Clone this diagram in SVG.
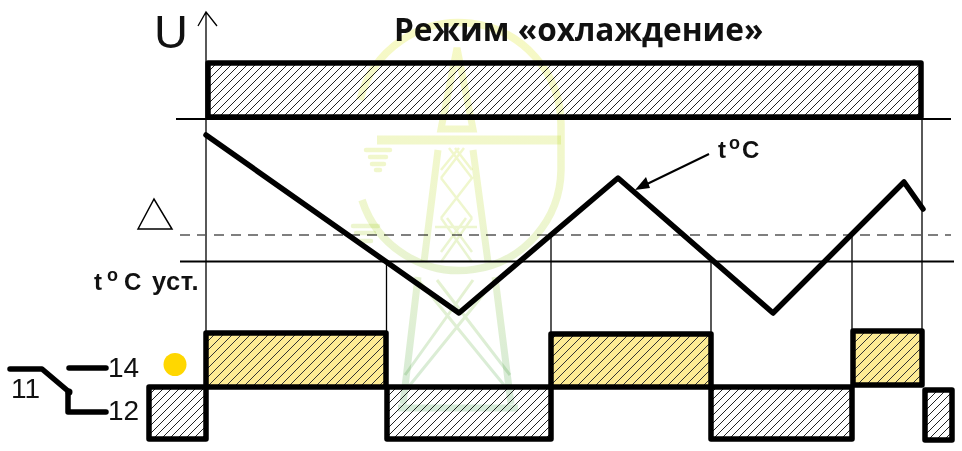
<svg xmlns="http://www.w3.org/2000/svg" width="962" height="451" viewBox="0 0 962 451">
<style>
.thin{fill:none;stroke:#000;stroke-width:1.3}
.mid{fill:none;stroke:#000;stroke-width:2}
.thick{fill:none;stroke:#000;stroke-width:5.500;stroke-linejoin:round;stroke-linecap:round}
.hg{fill:url(#hatch);stroke:#000;stroke-width:5.500;stroke-linejoin:round}
.hy{fill:url(#hatchY);stroke:#000;stroke-width:5.500;stroke-linejoin:round}
.sans{font-family:"Liberation Sans",Arial,sans-serif;fill:#111}
.lbl{font-size:28px}
.bold{font-weight:bold;font-size:24px}
.sup{font-size:18px}
.wm{fill:none;stroke:url(#wmg);mix-blend-mode:multiply}
</style>
<defs>
<pattern id="hatch" patternUnits="userSpaceOnUse" width="8" height="8"><rect width="8" height="8" fill="#fff"/><path d="M-2 2L2 -2M0 8L8 0M6 10L10 6" stroke="#222" stroke-width="1"/></pattern>
<pattern id="hatchY" patternUnits="userSpaceOnUse" width="9" height="9"><rect width="9" height="9" fill="#fdeb95"/><path d="M-2 2L2 -2M0 9L9 0M7 11L11 7" stroke="#333" stroke-width="1"/></pattern>
<linearGradient id="wmg" gradientUnits="userSpaceOnUse" x1="0" y1="20" x2="0" y2="415"><stop offset="0" stop-color="#f7f9c4"/><stop offset=".5" stop-color="#eef6cf"/><stop offset="1" stop-color="#d3e9d8"/></linearGradient>
</defs>
<g id="background-lines">
<path class="thin" d="M206 12V333M198 26L206 12L217 26"/>
<path class="mid" d="M176 119H951M180 261.500H954"/>
<path d="M180 235H951" fill="none" stroke="#555" stroke-width="1.300" stroke-dasharray="10 7"/>
<path class="thin" d="M922 119V332M386.500 262V333M551 235V333M711 262V333M852 235V331"/>
</g>
<g id="top-bar"><path class="hg" d="M208 63H921V117H208Z"/></g>
<g id="relay-state">
<rect class="hg" x="149" y="387" width="57" height="52"/>
<rect class="hg" x="387" y="387" width="164" height="52"/>
<rect class="hg" x="711" y="387" width="141" height="52"/>
<rect class="hg" x="925" y="390" width="27" height="50"/>
<rect class="hy" x="206" y="333" width="180" height="54"/>
<rect class="hy" x="551" y="334" width="160" height="53"/>
<rect class="hy" x="853" y="331" width="69" height="54"/>
</g>
<g id="temperature">
<path class="thick" d="M206 135L459 313L618 178L773 313L904 182L923 209"/>
<path class="mid" d="M709 154L645 185"/>
<path d="M635 190L646 177L650 188Z" fill="#000"/>
</g>
<g id="contact">
<path class="thick" d="M10 369H42L68 391V412H106M69 368H106"/>
<circle cx="69" cy="392" r="3.500" fill="#000"/>
<circle cx="175" cy="364.500" r="11.500" fill="#ffd700"/>
</g>
<g id="labels">
<text class="sans" x="154" y="48" font-size="47">U</text>
<text x="394" y="41" font-family="'Open Sans',sans-serif" font-weight="bold" font-size="31.600" fill="#111">Режим «охлаждение»</text>
<path d="M138 229L154 199L172 229Z" fill="none" stroke="#000" stroke-width="1.500"/>
<text class="sans bold" x="718" y="158" font-size="25">t<tspan class="sup" x="729" y="149">o</tspan><tspan x="742" y="158">C</tspan></text>
<text class="sans bold" x="94" y="290">t<tspan class="sup" x="107" y="281">o</tspan><tspan x="124" y="290">C</tspan><tspan x="152" y="290" font-size="25.500" letter-spacing=".5">уст.</tspan></text>
<text class="sans lbl" x="108" y="377">14</text>
<text class="sans lbl" x="108" y="420">12</text>
<text class="sans lbl" x="11" y="398">11</text>
</g>
<g id="watermark">
<path class="wm" stroke-width="7.500" d="M360 100A102 102 0 0 1 561 124V170A102 102 0 0 1 362 200"/>
<path class="wm" stroke-width="9" d="M377 140H561"/>
<path class="wm" stroke-width="4.500" stroke-linecap="round" d="M366 150H390M370 157H386M372 164H384M376 170H380M353 226H378M356 233H374M360 241H371"/>
<path class="wm" stroke-width="7" d="M457 48L441 129H473ZM438 150L424 262M473 150L488 262M418 277L403 404M495 277L511 404M398 408H518"/>
<path class="wm" stroke-width="2.500" d="M449 148L472 178L441 218M455 148L472 170M441 178L472 218M464 148L441 178M459 148L441 170M441 218L472 262M447 218L472 252M472 218L441 262M466 218L441 252M435 227H477"/>
<path class="wm" stroke-width="3" d="M420 282L504 385M437 280L510 375M495 280L410 385M473 280L405 375"/>
</g>
</svg>
